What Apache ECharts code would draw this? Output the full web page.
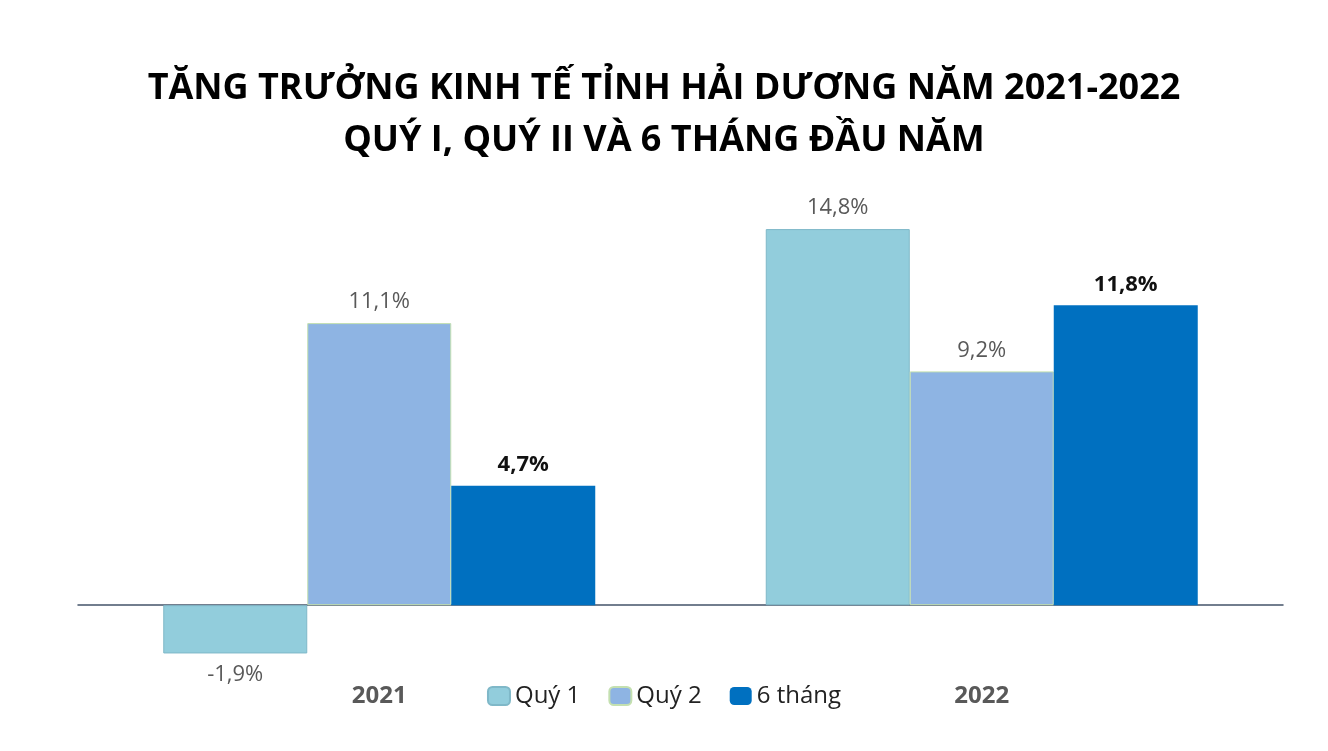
<!DOCTYPE html>
<html>
<head>
<meta charset="utf-8">
<script src="https://cdn.jsdelivr.net/npm/echarts@6/dist/echarts.min.js"></script>
<style>
  html, body { margin: 0; padding: 0; background: #fff; }
  #chart { width: 1328px; height: 751px; }
</style>
</head>
<body>
<div id="chart"></div>
<script>
// dữ liệu biểu đồ
const years = ["2021", "2022"];
const quy1 = [-1.9, 14.8];
const quy2 = [11.1, 9.2];
const sauThang = [4.7, 11.8];

const fmt = (p) => String(p.value).replace(".", ",") + "%";

const chart = echarts.init(document.getElementById("chart"));
chart.setOption({
  title: {
    text: "TĂNG TRƯỞNG KINH TẾ TỈNH HẢI DƯƠNG NĂM 2021-2022\nQUÝ I, QUÝ II VÀ 6 THÁNG ĐẦU NĂM",
    left: "center",
    top: 58,
    textStyle: {
      fontFamily: "Open Sans", fontWeight: "bold", fontSize: 36,
      color: "#000", lineHeight: 52
    }
  },
  legend: {
    bottom: 38,
    left: "center",
    itemWidth: 22, itemHeight: 18, itemGap: 28,
    textStyle: { fontFamily: "Open Sans", fontSize: 24, color: "#222" },
    data: ["Quý 1", "Quý 2", "6 tháng"]
  },
  grid: { left: 78, right: 45, top: 224, bottom: 95 },
  xAxis: {
    type: "category",
    data: years,
    axisLine: { onZero: true, lineStyle: { color: "#44546A", width: 1.5 } },
    axisTick: { show: false },
    axisLabel: {
      margin: 28, fontFamily: "Open Sans", fontSize: 24,
      fontWeight: "bold", color: "#595959"
    }
  },
  yAxis: { type: "value", min: -2, max: 15, show: false, splitLine: { show: false } },
  series: [
    {
      name: "Quý 1", type: "bar", data: quy1, barWidth: 144, barGap: "0%",
      itemStyle: { color: "#92CDDC", borderColor: "#7FB8C8", borderWidth: 1 },
      label: { show: true, position: "outside", formatter: fmt, distance: 10,
        fontFamily: "Open Sans", fontSize: 22, color: "#595959" }
    },
    {
      name: "Quý 2", type: "bar", data: quy2, barWidth: 144,
      itemStyle: { color: "#8EB4E3", borderColor: "#C4E0B0", borderWidth: 1 },
      label: { show: true, position: "top", formatter: fmt, distance: 10,
        fontFamily: "Open Sans", fontSize: 22, color: "#595959" }
    },
    {
      name: "6 tháng", type: "bar", data: sauThang, barWidth: 144,
      itemStyle: { color: "#0070C0" },
      label: { show: true, position: "top", formatter: fmt, distance: 10,
        fontFamily: "Open Sans", fontSize: 22, fontWeight: "bold", color: "#111" }
    }
  ]
});
</script>
</body>
</html>
